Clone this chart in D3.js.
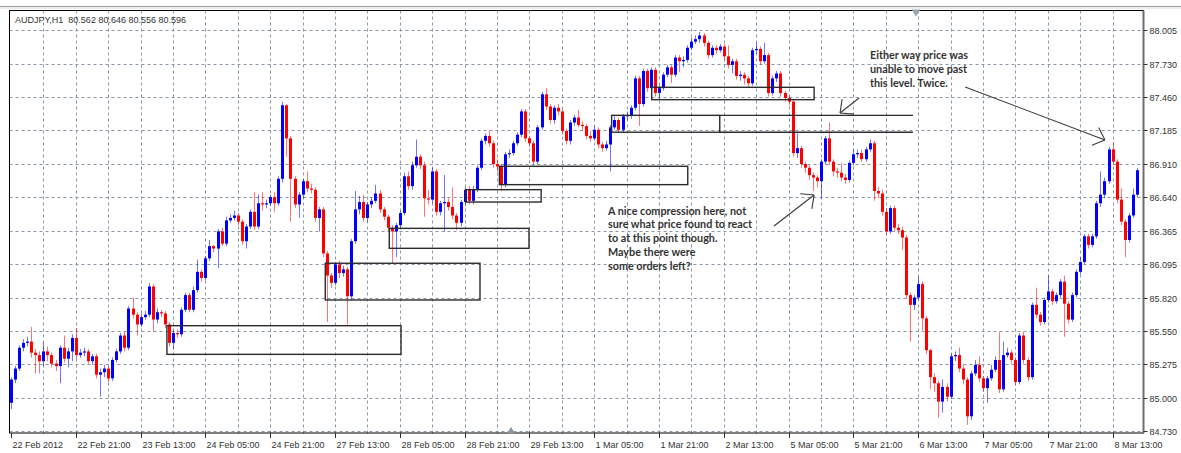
<!DOCTYPE html>
<html>
<head>
<meta charset="utf-8">
<script src="https://cdnjs.cloudflare.com/ajax/libs/d3/7.8.5/d3.min.js"></script>
<style>
  body { margin: 0; background: #fff; }
  text { font-family: "Liberation Sans", Arial, sans-serif; }
</style>
</head>
<body>
<svg id="chart" width="1181" height="453"></svg>
<script>
// AUDJPY H1 candles, one per hour, bar 0 = 22 Feb 2012 05:00 (weekend hours skipped)
const firstOpen = 84.96;
const closes = [
  85.15,85.24,85.41,85.45,85.46,85.37,85.35,85.30,85.38,85.35,
  85.28,85.26,85.41,85.32,85.38,85.49,85.35,85.37,85.38,85.30,
  85.34,85.19,85.21,85.24,85.16,85.31,85.38,85.51,85.41,85.73,
  85.68,85.60,85.66,85.68,85.91,85.64,85.70,85.69,85.60,85.45,
  85.53,85.52,85.72,85.84,85.72,85.88,86.03,85.98,86.14,86.24,
  86.22,86.36,86.26,86.45,86.47,86.49,86.44,86.28,86.40,86.52,
  86.40,86.59,86.58,86.59,86.64,86.59,86.79,87.39,87.12,86.79,
  86.58,86.66,86.77,86.71,86.70,86.47,86.54,86.18,86.00,85.94,
  86.09,86.02,86.05,85.83,86.28,86.54,86.60,86.47,86.58,86.61,
  86.67,86.54,86.48,86.39,86.36,86.41,86.51,86.81,86.73,86.90,
  86.97,86.90,86.63,86.62,86.85,86.52,86.59,86.60,86.56,86.49,
  86.43,86.60,86.70,86.61,86.70,86.88,87.10,87.14,87.08,86.91,
  86.89,86.74,86.99,87.00,87.08,87.15,87.34,87.12,87.08,86.93,
  87.21,87.48,87.38,87.27,87.37,87.34,87.18,87.10,87.25,87.29,
  87.23,87.22,87.14,87.12,87.19,87.07,87.04,87.07,87.21,87.27,
  87.19,87.30,87.31,87.37,87.61,87.40,87.67,87.53,87.68,87.49,
  87.53,87.64,87.70,87.64,87.78,87.75,87.76,87.86,87.91,87.93,
  87.96,87.90,87.80,87.86,87.84,87.87,87.79,87.72,87.75,87.63,
  87.64,87.61,87.57,87.84,87.85,87.75,87.80,87.49,87.61,87.65,
  87.49,87.45,87.42,87.00,87.04,86.91,86.88,86.82,86.80,86.77,
  86.93,87.12,86.93,86.85,86.84,86.80,86.78,86.92,86.99,87.00,
  86.95,87.03,87.08,86.69,86.67,86.52,86.36,86.55,86.39,86.37,
  86.31,85.84,85.76,85.82,85.93,85.65,85.39,85.17,85.12,84.97,
  85.09,85.01,85.34,85.35,85.24,85.15,84.85,85.20,85.27,85.16,
  85.08,85.16,85.23,85.31,85.07,85.35,85.37,85.31,85.13,85.51,
  85.31,85.17,85.76,85.68,85.62,85.80,85.87,85.79,85.84,85.95,
  85.77,85.64,85.84,86.03,86.11,86.32,86.25,86.32,86.59,86.66,
  86.77,87.03,86.93,86.62,86.44,86.29,86.49,86.66,86.86
];
const highs = [
  85.17,85.26,85.43,85.48,85.50,85.58,85.40,85.38,85.45,85.42,
  85.37,85.31,85.43,85.51,85.41,85.52,85.57,85.40,85.41,85.40,
  85.36,85.36,85.24,85.27,85.26,85.33,85.40,85.53,85.54,85.75,
  85.82,85.70,85.69,85.71,85.94,85.93,85.73,85.72,85.71,85.62,
  85.55,85.56,85.74,85.86,85.86,85.91,86.13,86.05,86.16,86.29,
  86.25,86.38,86.39,86.48,86.50,86.53,86.51,86.46,86.42,86.54,
  86.68,86.66,86.68,86.62,86.66,86.68,86.81,87.42,87.40,87.14,
  86.81,86.68,86.79,86.85,86.75,86.72,86.56,86.56,86.20,86.02,
  86.11,86.12,86.08,86.07,86.30,86.69,86.65,86.66,86.60,86.64,
  86.74,86.70,86.56,86.50,86.41,86.43,86.53,86.84,86.85,86.93,
  87.11,86.99,86.93,86.70,86.88,86.87,86.61,86.82,86.63,86.72,
  86.51,86.62,86.72,86.73,86.73,86.90,87.12,87.16,87.18,87.10,
  86.95,86.91,87.01,87.03,87.10,87.17,87.36,87.36,87.14,87.10,
  87.23,87.50,87.53,87.40,87.39,87.40,87.36,87.20,87.27,87.31,
  87.35,87.26,87.24,87.18,87.22,87.21,87.09,87.10,87.23,87.30,
  87.29,87.32,87.34,87.39,87.63,87.63,87.69,87.69,87.70,87.70,
  87.55,87.66,87.72,87.72,87.80,87.80,87.79,87.88,87.94,87.96,
  87.99,87.98,87.92,87.88,87.88,87.89,87.89,87.88,87.77,87.77,
  87.67,87.66,87.63,87.86,87.90,87.87,87.90,87.82,87.63,87.67,
  87.67,87.51,87.47,87.44,87.16,87.06,86.93,86.90,86.84,86.82,
  86.95,87.14,87.25,86.95,86.88,86.92,86.83,86.94,87.03,87.03,
  87.03,87.05,87.11,87.10,86.72,86.70,86.55,86.57,86.57,86.42,
  86.40,86.33,85.86,85.84,85.99,85.95,85.67,85.40,85.20,85.14,
  85.15,85.12,85.36,85.38,85.41,85.27,85.17,85.22,85.31,85.34,
  85.18,85.18,85.27,85.34,85.54,85.46,85.41,85.39,85.33,85.53,
  85.54,85.33,85.78,85.90,85.70,85.82,86.00,85.89,85.86,85.97,
  86.00,85.79,85.86,86.05,86.15,86.34,86.34,86.34,86.61,86.85,
  86.80,87.05,87.09,86.95,86.71,86.46,86.51,86.71,86.88
];
const lows = [
  84.91,85.12,85.22,85.38,85.42,85.33,85.20,85.20,85.26,85.30,
  85.25,85.22,85.12,85.29,85.25,85.30,85.32,85.33,85.34,85.28,
  85.27,85.16,85.01,85.17,85.13,85.14,85.29,85.36,85.38,85.39,
  85.65,85.51,85.58,85.64,85.66,85.54,85.61,85.66,85.57,85.42,
  85.40,85.49,85.50,85.70,85.70,85.70,85.86,85.95,85.96,86.12,
  86.19,86.06,86.24,86.24,86.43,86.45,86.41,86.25,86.22,86.38,
  86.37,86.38,86.53,86.55,86.57,86.52,86.57,86.76,86.97,86.44,
  86.55,86.47,86.63,86.68,86.67,86.44,86.36,86.15,85.62,85.90,
  85.92,85.98,85.99,85.60,85.80,86.26,86.50,86.44,86.44,86.55,
  86.59,86.51,86.45,86.36,86.10,86.15,86.38,86.49,86.70,86.70,
  86.88,86.87,86.48,86.58,86.59,86.49,86.49,86.36,86.53,86.46,
  86.37,86.40,86.57,86.58,86.58,86.68,86.86,87.07,87.05,86.88,
  86.85,86.69,86.72,86.96,86.98,87.06,87.13,87.09,87.05,86.90,
  86.91,87.19,87.35,87.24,87.24,87.31,87.15,87.07,87.07,87.22,
  87.21,87.18,87.11,87.09,87.10,87.04,87.01,87.02,86.85,87.19,
  87.17,87.17,87.27,87.28,87.35,87.22,87.38,87.50,87.51,87.46,
  87.44,87.51,87.62,87.57,87.62,87.66,87.70,87.74,87.84,87.89,
  87.90,87.87,87.77,87.78,87.81,87.82,87.76,87.69,87.65,87.60,
  87.59,87.56,87.53,87.55,87.81,87.72,87.73,87.46,87.47,87.58,
  87.46,87.42,87.39,86.97,86.96,86.88,86.84,86.78,86.69,86.72,
  86.63,86.91,86.90,86.81,86.80,86.77,86.75,86.76,86.90,86.96,
  86.93,86.93,87.01,86.61,86.63,86.49,86.33,86.34,86.36,86.34,
  86.21,85.81,85.46,85.72,85.80,85.55,85.36,85.07,85.05,84.84,
  84.88,84.97,84.99,85.30,85.21,85.11,84.78,84.82,85.18,85.13,
  85.05,84.96,85.14,85.21,85.04,85.05,85.33,85.28,85.10,85.11,
  85.28,85.14,85.15,85.65,85.59,85.60,85.78,85.76,85.77,85.82,
  85.50,85.61,85.62,85.82,86.01,86.09,86.22,86.23,86.30,86.56,
  86.63,86.75,86.90,86.59,86.41,86.15,86.27,86.47,86.64
];

const xTickBars = [0,16,32,48,64,80,96,112,128,144,160,176,192,208,224,240,256,272];
const xTickLabels = ["22 Feb 2012","22 Feb 21:00","23 Feb 13:00","24 Feb 05:00","24 Feb 21:00",
  "27 Feb 13:00","28 Feb 05:00","28 Feb 21:00","29 Feb 13:00","1 Mar 05:00","1 Mar 21:00",
  "2 Mar 13:00","5 Mar 05:00","5 Mar 21:00","6 Mar 13:00","7 Mar 05:00","7 Mar 21:00","8 Mar 13:00"];
const yTickValues = [88.005,87.730,87.460,87.185,86.910,86.640,86.365,86.095,85.820,85.550,85.275,85.000,84.730];

// zones drawn on the chart: [startBar, endBar, topPrice, bottomPrice]
const boxes = [
  [38.5, 96.3, 85.590, 85.356],
  [77.6, 115.8, 86.100, 85.800],
  [93.4, 127.9, 86.385, 86.222],
  [112.3, 130.9, 86.701, 86.600],
  [120.6, 167.1, 86.892, 86.742],
  [148.3, 175.0, 87.308, 87.170],
  [158.2, 198.3, 87.537, 87.436]
];
// horizontal level lines: [startBar, endBar, price]
const levels = [
  [175.0, 222.7, 87.308],
  [175.0, 222.7, 87.170]
];
// arrows: [fromBar, fromPrice, tipBar, tipPrice]
const arrows = [
  [188.4, 86.404, 198.3, 86.657],
  [209.4, 87.450, 204.7, 87.327],
  [235.6, 87.540, 270.1, 87.107]
];
const notes = [
  { bar: 147.4, price: 86.498, step: 13.8,
    lines: ["A nice compression here, not","sure what price found to react","to at this point though.","Maybe there were","some orders left?"] },
  { bar: 212.1, price: 87.768, step: 14.2,
    lines: ["Either way price was","unable to move past","this level. Twice."] }
];

const W = 1181;
const padL = 9.5, padT = 10.5, padR = 1143.5, padB = 433;

const svg = d3.select("#chart");

const x = d3.scaleLinear().domain([0, closes.length - 1]).range([11, 11 + (closes.length - 1) * 4.05]);
const y = d3.scaleLinear().domain([84.730, 88.005]).range([431, 30]);

// window edge at top
svg.append("line").attr("x1", 0).attr("x2", W).attr("y1", 6.5).attr("y2", 6.5).attr("stroke", "#a0a0a0");
svg.append("line").attr("x1", 0).attr("x2", W).attr("y1", 8).attr("y2", 8).attr("stroke", "#dcdcdc");

// grid
const grid = svg.append("g").attr("stroke", "#8a97a6").attr("stroke-dasharray", "3,3").attr("stroke-width", 1);
yTickValues.forEach(v => {
  const yy = Math.round(y(v)) + 0.5;
  grid.append("line").attr("x1", padL).attr("x2", padR + 4).attr("y1", yy).attr("y2", yy);
});
d3.range(8, closes.length, 8).forEach(b => {
  const xx = Math.round(x(b)) + 0.5;
  grid.append("line").attr("x1", xx).attr("x2", xx).attr("y1", padT).attr("y2", padB + 2);
});

svg.append("defs").append("clipPath").attr("id", "plot")
  .append("rect").attr("x", padL).attr("y", padT).attr("width", padR - padL).attr("height", padB - padT);

// candles
const candles = svg.append("g").attr("clip-path", "url(#plot)");
const bars = closes.map((c, i) => ({
  i, o: i === 0 ? firstOpen : closes[i - 1], c, h: highs[i], l: lows[i]
}));
candles.selectAll("line.wick").data(bars).join("line")
  .attr("class", "wick")
  .attr("x1", d => Math.round(x(d.i)) + 0.5).attr("x2", d => Math.round(x(d.i)) + 0.5)
  .attr("y1", d => y(d.h)).attr("y2", d => y(d.l))
  .attr("stroke", d => d.c >= d.o ? "#0000ff" : "#ff0000")
  .attr("stroke-opacity", 0.55);
candles.selectAll("rect.body").data(bars).join("rect")
  .attr("class", "body")
  .attr("x", d => Math.round(x(d.i)) - 1)
  .attr("width", 3)
  .attr("y", d => y(Math.max(d.o, d.c)))
  .attr("height", d => Math.max(1, Math.abs(y(d.o) - y(d.c))))
  .attr("fill", d => d.c >= d.o ? "#0000ff" : "#ff0000");

// zones and levels
const ann = svg.append("g").attr("fill", "none").attr("stroke", "#2b2b2b").attr("stroke-width", 1.4);
boxes.forEach(b => {
  ann.append("rect")
    .attr("x", x(b[0])).attr("y", y(b[2]))
    .attr("width", x(b[1]) - x(b[0])).attr("height", y(b[3]) - y(b[2]));
});
levels.forEach(l => {
  ann.append("line").attr("x1", x(l[0])).attr("x2", x(l[1])).attr("y1", y(l[2])).attr("y2", y(l[2]));
});

// arrows with open heads
const arr = svg.append("g").attr("stroke", "#3a3a3a").attr("stroke-width", 1.1).attr("fill", "none");
arrows.forEach(a => {
  const x0 = x(a[0]), y0 = y(a[1]), x1 = x(a[2]), y1 = y(a[3]);
  arr.append("line").attr("x1", x0).attr("y1", y0).attr("x2", x1).attr("y2", y1);
  const ang = Math.atan2(y0 - y1, x0 - x1);
  [-0.75, 0.75].forEach(da => {
    arr.append("line").attr("x1", x1).attr("y1", y1)
      .attr("x2", x1 + 14 * Math.cos(ang + da)).attr("y2", y1 + 14 * Math.sin(ang + da));
  });
});

// notes
notes.forEach(n => {
  const t = svg.append("text")
    .attr("x", x(n.bar)).attr("y", y(n.price))
    .attr("fill", "#333")
    .style("font-family", "Lato, 'Open Sans', sans-serif")
    .style("font-weight", 700)
    .style("font-size", "10.8px");
  n.lines.forEach((s, k) => {
    t.append("tspan").attr("x", x(n.bar)).attr("dy", k === 0 ? 0 : n.step).text(s);
  });
});

// frame
svg.append("rect").attr("x", padL).attr("y", padT).attr("width", padR - padL).attr("height", padB - padT)
  .attr("fill", "none").attr("stroke", "#000").attr("stroke-width", 1);
svg.append("line").attr("x1", padR).attr("x2", padR).attr("y1", padT).attr("y2", padB)
  .attr("stroke", "#6e6e6e").attr("stroke-width", 2);

// y axis on the right
const yAxis = svg.append("g").attr("font-size", 9).attr("fill", "#333");
yTickValues.forEach(v => {
  const yy = Math.round(y(v)) + 0.5;
  yAxis.append("line").attr("x1", padR).attr("x2", padR + 4).attr("y1", yy).attr("y2", yy).attr("stroke", "#333");
  yAxis.append("text").attr("x", padR + 6).attr("y", yy + 3.5).text(d3.format(".3f")(v));
});

// x axis at the bottom
const xAxis = svg.append("g").attr("font-size", 9).attr("fill", "#333");
xTickBars.forEach((b, k) => {
  const xx = Math.round(x(b)) + 0.5;
  xAxis.append("line").attr("x1", xx).attr("x2", xx).attr("y1", padB).attr("y2", padB + 5).attr("stroke", "#333");
  xAxis.append("text").attr("x", xx + 1).attr("y", padB + 15).text(xTickLabels[k]);
});

// chart header
svg.append("text").attr("x", 15).attr("y", 23).attr("font-size", 9).attr("fill", "#333")
  .attr("xml:space", "preserve")
  .text("AUDJPY,H1  80.562 80.646 80.556 80.596");

// small markers: chart shift and scroll
svg.append("path").attr("d", d3.symbol(d3.symbolTriangle, 30)())
  .attr("transform", "translate(916,12) rotate(180)").attr("fill", "#9aa4ae");
svg.append("path").attr("d", d3.symbol(d3.symbolTriangle, 24)())
  .attr("transform", "translate(511,431)").attr("fill", "#8a97a6");
</script>
</body>
</html>
